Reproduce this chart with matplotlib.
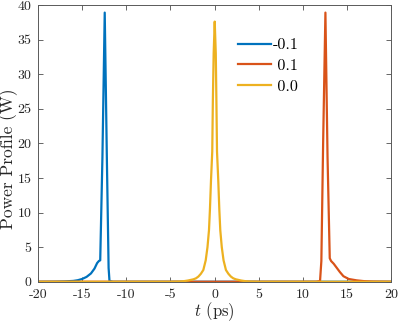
import matplotlib
matplotlib.use("Agg")
import matplotlib.pyplot as plt

# ---- data ----
labels = ["-0.1", " 0.1", " 0.0"]
colors = ["#0072BD", "#D95319", "#EDB120"]

t_blue = [-20, -18, -17, -16, -15.5, -15, -14.5, -14, -13.6, -13.3, -13.1, -12.95,
          -12.7, -12.44, -12.2, -12.0, -11.9, -11.5, 20]
p_blue = [0, 0.02, 0.05, 0.12, 0.22, 0.4, 0.7, 1.2, 1.9, 2.7, 3.0, 3.1,
          18, 38.9, 18, 2, 0.1, 0, 0]

t_red = [-20, 11.5, 11.95, 12.1, 12.3, 12.56, 12.8, 13.05, 13.2, 13.5, 13.85,
         14.2, 14.6, 15.2, 16.1, 17, 18, 20]
p_red = [0, 0, 0.1, 3, 20, 38.9, 18, 3.4, 3.0, 2.6, 2.0,
         1.4, 0.8, 0.4, 0.2, 0.08, 0.03, 0]

t_yel = [-20, -5, -4.0, -3.5, -3.0, -2.4, -2.1, -1.83, -1.55, -1.27, -1.0, -0.8, -0.63,
         -0.52, -0.4, -0.26, -0.19, -0.1, 0.02, 0.14, 0.21, 0.28, 0.42, 0.54,
         0.65, 0.82, 1.02, 1.29, 1.57, 1.85, 2.12, 2.42, 3.0, 3.5, 4.0, 5, 20]
p_yel = [0, 0, 0.03, 0.08, 0.18, 0.35, 0.5, 0.75, 1.15, 1.7, 3.1, 5.0, 7.45,
         10.5, 14.7, 18.8, 26.2, 33, 37.6, 33, 26.2, 18.8, 14.7, 10.5,
         7.45, 5.0, 3.1, 1.7, 1.15, 0.75, 0.5, 0.35, 0.18, 0.08, 0.03, 0, 0]

xticks = list(range(-20, 21, 5))
yticks = list(range(0, 41, 5))

# ---- style ----
plt.rcParams["font.family"] = "cmr10"
plt.rcParams["mathtext.fontset"] = "cm"
plt.rcParams["axes.unicode_minus"] = False
plt.rcParams["axes.formatter.use_mathtext"] = False

fig = plt.figure(figsize=(3.99, 3.22), dpi=100)
ax = fig.add_axes([0.0952, 0.125, 0.885, 0.8595])

for t, p, c, lab in zip([t_blue, t_red, t_yel], [p_blue, p_red, p_yel], colors, labels):
    ax.plot(t, p, color=c, lw=1.6, label=lab, solid_joinstyle="round")

ax.set_xlim(-20, 20)
ax.set_ylim(0, 40)
ax.set_xticks(xticks)
ax.set_yticks(yticks)
ax.set_xticklabels([str(v) for v in xticks])
ax.set_yticklabels([str(v) for v in yticks])
ax.tick_params(direction="in", length=3.5, width=0.6, color="0.3",
               top=True, right=True, labelsize=10, labelcolor="0.15")
ax.tick_params(axis="x", pad=5)
ax.tick_params(axis="y", pad=4.5)
for s in ax.spines.values():
    s.set_color("0.35")
    s.set_linewidth(0.7)

ax.set_xlabel(r"$t$ (ps)", fontsize=12, color="0.15")
ax.set_ylabel("Power Profile (W)", fontsize=12.5, color="0.15")
ax.xaxis.set_label_coords(0.5, -0.066)
ax.yaxis.set_label_coords(-0.057, 0.443)

leg = ax.legend(loc="upper left", bbox_to_anchor=(0.567, 0.88), frameon=False,
                fontsize=11.5, handlelength=2.08, handletextpad=0.06,
                labelspacing=0.4, borderpad=0, borderaxespad=0)

fig.savefig("out.png", dpi=100)
